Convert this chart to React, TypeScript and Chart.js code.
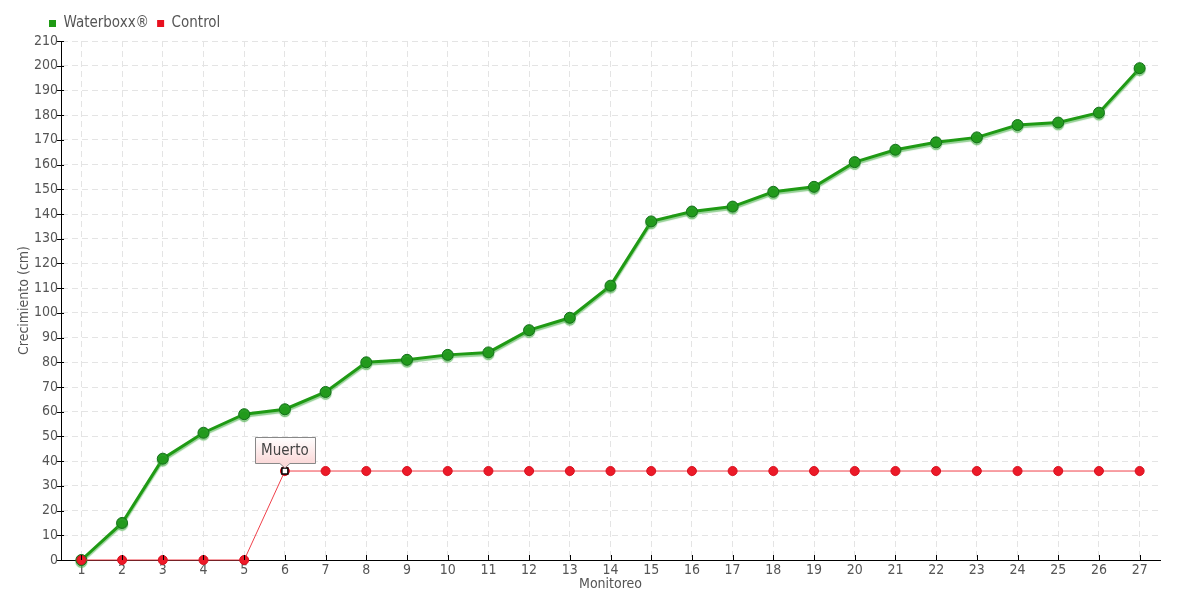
import React, { useEffect, useRef } from "react";
import { Chart, registerables } from "chart.js";

Chart.register(...registerables);

const categories = ["1","2","3","4","5","6","7","8","9","10","11","12","13","14","15","16","17","18","19","20","21","22","23","24","25","26","27"];
const waterboxx = [0, 15, 41, 51.5, 59, 61, 68, 80, 81, 83, 84, 93, 98, 111, 137, 141, 143, 149, 151, 161, 166, 169, 171, 176, 177, 181, 199];
const control = [0, 0, 0, 0, 0, 36, 36, 36, 36, 36, 36, 36, 36, 36, 36, 36, 36, 36, 36, 36, 36, 36, 36, 36, 36, 36, 36];
const annotationIndex = 5;
const annotationText = "Muerto";

const FONT = "'Liberation Sans Narrow', 'DejaVu Sans Condensed', 'DejaVu Sans', sans-serif";
const TEXT = "#555555";

const customPlugin = {
  id: "custom",
  afterLayout(chart: any) {
    const lg = chart.legend;
    if (lg) {
      lg.left += 24;
      lg.right += 24;
    }
  },
  beforeDatasetDraw(chart: any, args: any) {
    const ctx = chart.ctx;
    ctx.save();
    if (args.index === 0) {
      ctx.shadowColor = "rgba(60,170,60,0.55)";
      ctx.shadowOffsetX = 0;
      ctx.shadowOffsetY = 2;
      ctx.shadowBlur = 1;
    }
  },
  afterDatasetDraw(chart: any) {
    chart.ctx.restore();
  },
  afterDraw(chart: any) {
    const ctx = chart.ctx;
    const x = chart.scales.x;
    const y = chart.scales.y;
    const area = chart.chartArea;
    ctx.save();
    ctx.strokeStyle = "#000";
    ctx.lineWidth = 1;
    y.ticks.forEach((t: any) => {
      const py = Math.round(y.getPixelForValue(t.value)) + 0.5;
      ctx.beginPath();
      ctx.moveTo(area.left - 4, py);
      ctx.lineTo(area.left + 3, py);
      ctx.stroke();
    });
    categories.forEach((_, i) => {
      const px = Math.round(x.getPixelForValue(i)) + 0.5;
      ctx.beginPath();
      ctx.moveTo(px, area.bottom);
      ctx.lineTo(px, area.bottom - 5);
      ctx.stroke();
    });
    const meta = chart.getDatasetMeta(1);
    const el = meta.data[annotationIndex];
    if (el) {
      const px = el.x, py = el.y;
      ctx.fillStyle = "#fff";
      ctx.strokeStyle = "#000";
      ctx.lineWidth = 1.5;
      ctx.fillRect(px - 3, py - 3, 6, 6);
      ctx.strokeRect(px - 3, py - 3, 6, 6);
      const w = 60, h = 26;
      const bx = Math.round(px - w / 2), by = Math.round(py - 8 - h);
      const grad = ctx.createLinearGradient(0, by, 0, by + h);
      grad.addColorStop(0, "#ffffff");
      grad.addColorStop(1, "#fbd9d9");
      ctx.beginPath();
      ctx.moveTo(bx + 0.5, by + 0.5);
      ctx.lineTo(bx + w + 0.5, by + 0.5);
      ctx.lineTo(bx + w + 0.5, by + h + 0.5);
      ctx.lineTo(px + 5, by + h + 0.5);
      ctx.lineTo(px, py - 3);
      ctx.lineTo(px - 5, by + h + 0.5);
      ctx.lineTo(bx + 0.5, by + h + 0.5);
      ctx.closePath();
      ctx.fillStyle = grad;
      ctx.fill();
      ctx.strokeStyle = "#888";
      ctx.lineWidth = 1;
      ctx.stroke();
      ctx.fillStyle = "#444";
      ctx.font = "15px " + FONT;
      ctx.textAlign = "center";
      ctx.textBaseline = "middle";
      ctx.fillText(annotationText, px, by + h / 2 + 1);
    }
    ctx.restore();
  },
};

export default function App() {
  const ref = useRef<HTMLCanvasElement>(null);
  useEffect(() => {
    if (!ref.current) return;
    const chart = new Chart(ref.current, {
      type: "line",
      data: {
        labels: categories,
        datasets: [
          {
            label: "Waterboxx®",
            data: waterboxx,
            order: 2,
            clip: 8,
            borderColor: "#1f9a14",
            backgroundColor: "#1f9a14",
            borderWidth: 3,
            pointRadius: 5.5,
            pointBackgroundColor: "#229a1c",
            pointBorderColor: "#14701a",
            pointBorderWidth: 1,
            tension: 0,
          },
          {
            label: "Control",
            data: control,
            order: 1,
            clip: 8,
            borderColor: "#f0404a",
            backgroundColor: "#e8101e",
            borderWidth: 1,
            pointRadius: 4.5,
            pointBackgroundColor: "#ec1a28",
            pointBorderColor: "#d81020",
            pointBorderWidth: 1,
            tension: 0,
          },
        ],
      },
      options: {
        animation: false,
        responsive: true,
        maintainAspectRatio: false,
        layout: { padding: { left: 17, right: 20, top: 8, bottom: 9 } },
        plugins: {
          tooltip: { enabled: false },
          legend: {
            position: "top",
            align: "start",
            labels: {
              boxWidth: 7,
              boxHeight: 7,
              padding: 8,
              color: TEXT,
              font: { family: FONT, size: 15 },
              generateLabels: (chart: any) =>
                chart.data.datasets.map((d: any, i: number) => ({
                  text: d.label,
                  fillStyle: d.backgroundColor,
                  strokeStyle: d.backgroundColor,
                  lineWidth: 0,
                  hidden: false,
                  datasetIndex: i,
                  fontColor: TEXT,
                })),
            },
          },
        },
        scales: {
          x: {
            offset: true,
            grid: { offset: false, color: "#e4e4e4", drawTicks: false },
            border: { display: true, color: "#000", width: 1, dash: [6, 4] },
            ticks: { color: TEXT, font: { family: FONT, size: 14, lineHeight: 1 }, padding: 3, maxRotation: 0 },
            title: { display: true, text: "Monitoreo", color: TEXT, font: { family: FONT, size: 14, lineHeight: 1 }, padding: { top: -3, bottom: 0 } },
          },
          y: {
            min: 0,
            max: 210,
            grid: { color: "#e4e4e4", drawTicks: false },
            border: { display: true, color: "#000", width: 1, dash: [6, 4] },
            ticks: { stepSize: 10, color: TEXT, font: { family: FONT, size: 14, lineHeight: 1 }, padding: 3, autoSkip: false },
            title: { display: true, text: "Crecimiento (cm)", color: TEXT, font: { family: FONT, size: 14, lineHeight: 1 }, padding: { top: 0, bottom: 0 } },
          },
        },
      },
      plugins: [customPlugin],
    } as any);
    return () => chart.destroy();
  }, []);
  return (
    <div style={{ position: "fixed", left: 0, top: 0, width: 1180, height: 600, background: "#fff" }}>
      <canvas ref={ref} />
    </div>
  );
}
